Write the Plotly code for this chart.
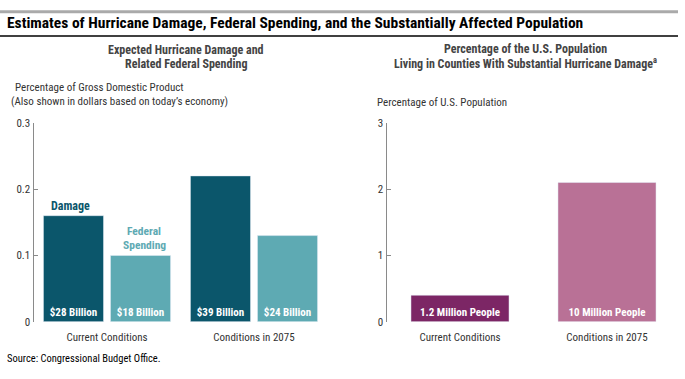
import plotly.graph_objects as go

# ---- data ----
categories = ["Current Conditions", "Conditions in 2075"]
damage_pct_gdp = [0.16, 0.22]
federal_pct_gdp = [0.10, 0.13]
damage_labels = ["$28 Billion", "$39 Billion"]
federal_labels = ["$18 Billion", "$24 Billion"]
population_pct = [0.4, 2.1]
population_labels = ["1.2 Million People", "10 Million People"]
left_ticks = [0, 0.1, 0.2, 0.3]
left_tick_text = ["0", "0.1", "0.2", "0.3"]
right_ticks = [0, 1, 2, 3]
right_tick_text = ["0", "1", "2", "3"]

DARK_TEAL = "#0b566b"
LIGHT_TEAL = "#5eaab3"
PURPLE = "#7c2665"
PINK = "#b97196"
FONT = "Liberation Sans Narrow, Roboto Condensed, Arial Narrow, Liberation Sans, sans-serif"
W, H = 685, 379

bar_text_font = dict(color="white", size=11, family=FONT)

fig = go.Figure()
fig.add_trace(go.Bar(x=categories, y=damage_pct_gdp, text=[f"<b>{t}</b>" for t in damage_labels],
                     name="Damage", marker_color=DARK_TEAL, textposition="inside",
                     insidetextanchor="start", textangle=0, textfont=bar_text_font,
                     xaxis="x", yaxis="y", hoverinfo="skip"))
fig.add_trace(go.Bar(x=categories, y=federal_pct_gdp, text=[f"<b>{t}</b>" for t in federal_labels],
                     name="Federal Spending", marker_color=LIGHT_TEAL, textposition="inside",
                     insidetextanchor="start", textangle=0, textfont=bar_text_font,
                     xaxis="x", yaxis="y", hoverinfo="skip"))
fig.add_trace(go.Bar(x=categories, y=population_pct, text=[f"<b>{t}</b>" for t in population_labels],
                     marker_color=[PURPLE, PINK], textposition="inside", insidetextanchor="start",
                     textangle=0, textfont=bar_text_font, width=0.667,
                     xaxis="x2", yaxis="y2", hoverinfo="skip"))


def px_x(p):
    return p / W


def px_y(p):
    return 1 - p / H


y_bottom, y_top = 327, 121
axis_common = dict(showgrid=False, zeroline=False, showline=True, linecolor="#8a8a8a",
                   linewidth=1.2, ticks="inside", ticklen=4, tickcolor="#8a8a8a",
                   tickfont=dict(size=11, color="#333333", family=FONT))
xaxis_common = dict(showline=False, showgrid=False, ticks="outside", ticklen=5,
                    tickcolor="rgba(0,0,0,0)", range=[-0.5, 1.5],
                    tickfont=dict(size=11, color="#333333", family=FONT))

fig.update_layout(
    width=W, height=H, autosize=False, margin=dict(l=0, r=0, t=0, b=0),
    paper_bgcolor="white", plot_bgcolor="white", showlegend=False,
    barmode="group", bargap=0.088, bargroupgap=0.104,
    font=dict(family=FONT, color="#333333"),
    xaxis=dict(domain=[px_x(33.5), px_x(327.5)], **xaxis_common),
    yaxis=dict(domain=[px_y(y_bottom), px_y(y_top)], range=[0, 0.3],
               tickvals=left_ticks, ticktext=left_tick_text, **axis_common),
    xaxis2=dict(domain=[px_x(386.5), px_x(680.5)], anchor="y2", **xaxis_common),
    yaxis2=dict(domain=[px_y(y_bottom), px_y(y_top)], anchor="x2", range=[0, 3],
                tickvals=right_ticks, ticktext=right_tick_text, **axis_common),
)

shapes = [
    dict(type="rect", xref="paper", yref="paper", x0=0, x1=px_x(678), y0=px_y(7.5), y1=px_y(4.5),
         line=dict(width=0), fillcolor="#aaaaaa"),
    dict(type="line", xref="paper", yref="paper", x0=0, x1=px_x(678), y0=px_y(31), y1=px_y(31),
         line=dict(color="black", width=1.5)),
]
fig.update_layout(shapes=shapes)


def paper_text(text, x, y, size, color="#333333", xanchor="left", bold=False):
    if bold:
        text = f"<b>{text}</b>"
    return dict(text=text, xref="paper", yref="paper", x=px_x(x), y=px_y(y),
                xanchor=xanchor, yanchor="middle", showarrow=False, align="left",
                font=dict(size=size, color=color, family=FONT))


ann = [
    paper_text("Estimates of Hurricane Damage, Federal Spending, and the Substantially Affected Population",
               5, 18, 15.5, color="black", bold=True),
    paper_text("Expected Hurricane Damage and", 186, 46, 12, color="#444444", xanchor="center", bold=True),
    paper_text("Related Federal Spending", 186, 60, 12, color="#444444", xanchor="center", bold=True),
    paper_text("Percentage of the U.S. Population", 525, 45, 12, color="#444444", xanchor="center", bold=True),
    paper_text("Living in Counties With Substantial Hurricane Damage<sup>a</sup>", 525, 59, 12,
               color="#444444", xanchor="center", bold=True),
    paper_text("Percentage of Gross Domestic Product", 13, 84, 11),
    paper_text("(Also shown in dollars based on today\u2019s economy)", 9, 99, 11),
    paper_text("Percentage of U.S. Population", 375, 100, 11),
    paper_text("Source: Congressional Budget Office.", 5, 365, 10.5, color="black"),
    dict(text="<b>Damage</b>", xref="x", yref="y", x=categories[0], y=damage_pct_gdp[0],
         xshift=-37, yshift=1, xanchor="center", yanchor="bottom", showarrow=False,
         font=dict(size=12, color=DARK_TEAL, family=FONT)),
    dict(text="<b>Spending</b>", xref="x", yref="y", x=categories[0], y=federal_pct_gdp[0],
         xshift=37, yshift=1, xanchor="center", yanchor="bottom", showarrow=False,
         font=dict(size=11.5, color=LIGHT_TEAL, family=FONT)),
    dict(text="<b>Federal</b>", xref="x", yref="y", x=categories[0], y=federal_pct_gdp[0],
         xshift=37, yshift=15, xanchor="center", yanchor="bottom", showarrow=False,
         font=dict(size=11.5, color=LIGHT_TEAL, family=FONT)),
]
fig.update_layout(annotations=ann)

fig.write_html(
    "out.html",
    config={"displayModeBar": False, "responsive": False},
    post_script=(
        "document.body.style.margin='0';"
        "document.body.style.overflow='hidden';"
        "document.documentElement.style.overflow='hidden';"
    ),
)
